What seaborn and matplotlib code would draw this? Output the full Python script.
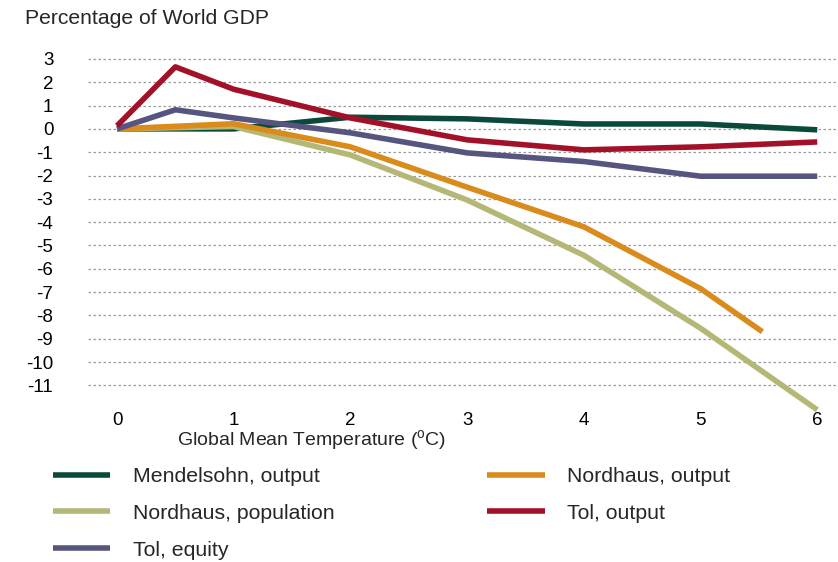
import numpy as np
import pandas as pd
import matplotlib
matplotlib.use("Agg")
import matplotlib.pyplot as plt
import seaborn as sns

# values (% of world GDP vs warming in degC)
temp = [0, 0.5, 1, 2, 3, 4, 5, 6]
mendelsohn_output = [0.0, 0.0, 0.0, 0.5, 0.43, 0.21, 0.21, -0.04]
tol_output = [0.13, 2.66, 1.7, 0.47, -0.47, -0.9, -0.77, -0.56]
tol_equity = [0.0, 0.82, 0.47, -0.17, -1.03, -1.4, -2.03, -2.03]

temp_nh = [0, 1, 2, 3, 4, 5]
nordhaus_population = [0.0, 0.1, -1.12, -3.05, -5.42, -8.55]
temp_nh_pop_end = [6]
nordhaus_population_end = [-12.05]
temp_nh_out = [0, 1, 2, 3, 4, 5, 5.53]
nordhaus_output = [0.0, 0.22, -0.77, -2.5, -4.2, -6.85, -8.7]

names = ["Mendelsohn, output", "Nordhaus, output", "Nordhaus, population",
         "Tol, output", "Tol, equity"]
colors = ["#0B4A3A", "#D98B1C", "#B5B777", "#A31128", "#56557F"]

frames = [
    pd.DataFrame({"t": temp, "v": mendelsohn_output, "s": names[0]}),
    pd.DataFrame({"t": temp_nh_out, "v": nordhaus_output, "s": names[1]}),
    pd.DataFrame({"t": temp_nh + temp_nh_pop_end,
                  "v": nordhaus_population + nordhaus_population_end, "s": names[2]}),
    pd.DataFrame({"t": temp, "v": tol_output, "s": names[3]}),
    pd.DataFrame({"t": temp, "v": tol_equity, "s": names[4]}),
]
df = pd.concat(frames, ignore_index=True)

sns.set_theme(style="white")
plt.rcParams["font.family"] = ["Liberation Sans", "DejaVu Sans"]
plt.rcParams["mathtext.fontset"] = "custom"
plt.rcParams["mathtext.rm"] = "Liberation Sans"
plt.rcParams["axes.unicode_minus"] = False
plt.rcParams["lines.solid_capstyle"] = "butt"

W, H = 838, 562
fig = plt.figure(figsize=(W / 100, H / 100), dpi=100)
ax = fig.add_axes([88 / W, 1 - 411 / H, 750 / W, (411 - 58) / H])

# draw order: green at the back
order = [names[0], names[2], names[1], names[4], names[3]]
for name in order:
    sub = df[df["s"] == name]
    sns.lineplot(data=sub, x="t", y="v", color=colors[names.index(name)],
                 lw=4, ax=ax, label=name, sort=False, clip_on=False)

ax.set_xlim(-0.2485, 6.178)
ax.set_ylim(-12.1, 3.04)
ax.set_xticks(range(0, 7))
ax.set_yticks(range(-11, 4))
ax.set_xlabel("")
ax.set_ylabel("")
for s in ax.spines.values():
    s.set_visible(False)
ax.grid(False)
for yv in range(-11, 4):
    ax.axhline(yv, color="#9a9a9a", lw=0.9, ls=(0, (2, 2)), zorder=0)
ax.tick_params(axis="y", length=0, pad=25, labelsize=13.5, labelcolor="black")
ax.tick_params(axis="x", length=0, pad=1, labelsize=13.5, labelcolor="black")
ax.get_legend().remove()

fig.text(25 / W, 1 - 19 / H, "Percentage of World GDP", fontsize=15.2,
         ha="left", va="center")
fig.text(312 / W, 1 - 441 / H, r"Global Mean Temperature ($^{\mathrm{o}}$C)",
         fontsize=14, ha="center", va="center")

hmap = {h.get_label(): h for h in ax.get_lines() if h.get_label() in names}
leg_order = [names[0], names[2], names[4], names[1], names[3]]
fig.legend([hmap[n] for n in leg_order], leg_order, loc="upper left",
           bbox_to_anchor=(53 / W, 1 - 467 / H), ncol=2, frameon=False,
           fontsize=15.3, handlelength=2.7, handletextpad=1.05,
           columnspacing=7.2, labelspacing=0.84, borderpad=0, borderaxespad=0)

fig.savefig("out.png", dpi=100)
